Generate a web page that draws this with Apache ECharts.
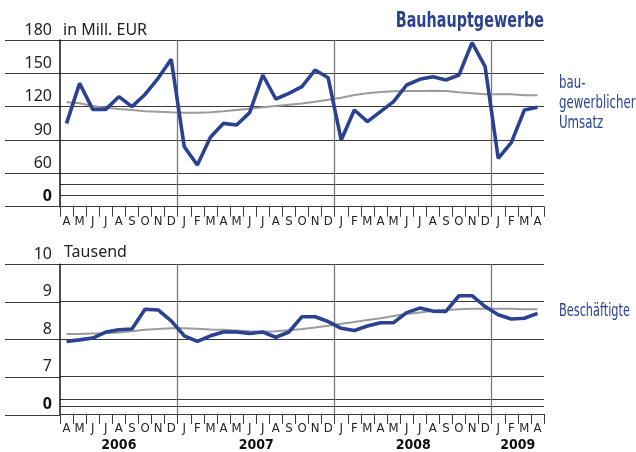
<!DOCTYPE html>
<html><head><meta charset="utf-8">
<script src="https://cdn.jsdelivr.net/npm/echarts@6/dist/echarts.min.js"></script>
<style>html,body{margin:0;padding:0;background:#fff}#c{width:636px;height:452px}</style>
</head><body><div id="c"></div>
<script>
// ---- data ----
const categories = ['2006-04','2006-05','2006-06','2006-07','2006-08','2006-09','2006-10','2006-11','2006-12',
  '2007-01','2007-02','2007-03','2007-04','2007-05','2007-06','2007-07','2007-08','2007-09','2007-10','2007-11','2007-12',
  '2008-01','2008-02','2008-03','2008-04','2008-05','2008-06','2008-07','2008-08','2008-09','2008-10','2008-11','2008-12',
  '2009-01','2009-02','2009-03','2009-04'];
const monthLabels = ['A','M','J','J','A','S','O','N','D',
  'J','F','M','A','M','J','J','A','S','O','N','D',
  'J','F','M','A','M','J','J','A','S','O','N','D',
  'J','F','M','A'];
const years = ['2006','2007','2008','2009'];
const monthsPerYear = [9,12,12,4];
const umsatz = [105,141,117.6,117.6,129,120,131,145.5,162.6,
  84,67.5,92.4,105,103.5,114.6,148.5,126.9,132,138,153,146,
  90,117,106.5,115.5,124.5,139.5,144.6,147,144,148.5,177.6,156,
  73.5,87.6,117,119.4];
const umsatzTrend = [123.9,123,120.6,119.1,117.9,117,115.8,115.5,114.9,
  114.6,114.6,114.9,115.8,117,118.2,119.4,120.6,121.8,122.8,124.5,126.3,
  128.1,130.5,132,133.2,133.8,134.1,134.1,134.4,134.1,132.9,132,131.1,
  131.1,131.1,130.2,130.2];
const beschaeftigte = [7.94,7.98,8.03,8.19,8.25,8.27,8.80,8.78,8.49,
  8.09,7.94,8.09,8.19,8.19,8.15,8.19,8.05,8.19,8.60,8.60,8.47,
  8.29,8.23,8.35,8.44,8.44,8.71,8.83,8.75,8.74,9.16,9.16,8.87,
  8.65,8.54,8.56,8.69];
const beschTrend = [8.14,8.14,8.15,8.16,8.18,8.21,8.25,8.27,8.29,
  8.29,8.28,8.26,8.25,8.23,8.21,8.20,8.21,8.24,8.27,8.31,8.36,
  8.41,8.46,8.51,8.56,8.62,8.67,8.71,8.75,8.78,8.80,8.81,8.81,
  8.81,8.81,8.80,8.80];
const umsatzTicks = [60,90,120,150,180];
const beschTicks = [7,8,9,10];
const zeroLabel = '0';
const titleText = 'Bauhauptgewerbe';
const umsatzName = 'bau-\ngewerblicher\nUmsatz';
const beschName = 'Beschäftigte';

// ---- styling ----
const FONT = "'Noto Sans', sans-serif";
const NARROW = "'Liberation Sans Narrow','DejaVu Sans Condensed','Roboto Condensed','Noto Sans',sans-serif";
const BLUE = '#2a4290', GRAY = '#9b9b9b', LINE = '#3a3a3a', YEAR = '#7a7a7a';

function near(a, b) { return Math.abs(a - b) < 1e-6; }
function splitColors(min, max, step, visible) {
  const arr = [];
  const n = Math.round((max - min) / step);
  for (let i = 0; i <= n; i++) {
    const v = min + i * step;
    arr.push(visible.some(t => near(t, v)) ? LINE : 'rgba(0,0,0,0)');
  }
  return arr;
}
const yearCenters = [];
{ let s = 0; monthsPerYear.forEach(m => { yearCenters.push(s + m / 2); s += m; }); }

function mainX(gridIndex) {
  return {
    type: 'category', gridIndex, data: categories, boundaryGap: true, position: 'bottom',
    axisLine: { show: true, lineStyle: { color: LINE, width: 1 } },
    axisTick: { show: true, interval: 0, length: 10, lineStyle: { color: LINE, width: 1 } },
    axisLabel: { interval: 0, margin: 8, fontFamily: NARROW, fontSize: 13, lineHeight: 13, color: '#222',
      formatter: (v, i) => monthLabels[i] },
    splitLine: { show: true, showMaxLine: false, interval: (i, v) => typeof v === 'string' && v.slice(5) === '01',
      lineStyle: { color: YEAR, width: 1.3 } }
  };
}
function hiddenX(gridIndex) { return { type: 'value', gridIndex, min: 0, max: 1, show: false }; }
function labelFmt(ticks, zeroAt) {
  return v => {
    if (near(v, zeroAt)) return '{z|' + zeroLabel + '}';
    const t = ticks.find(t => near(t, v));
    return t != null ? String(t) : '';
  };
}
const yLabel = (ticks, zeroAt) => ({
  show: true, margin: 8, fontFamily: FONT, fontSize: 16, lineHeight: 16, color: '#222',
  verticalAlign: 'bottom', padding: [0, 0, 2, 0], formatter: labelFmt(ticks, zeroAt),
  rich: { z: { fontFamily: FONT, fontSize: 16, lineHeight: 16, fontWeight: 'bold', color: '#111' } }
});

const option = {
  animation: false,
  backgroundColor: '#fff',
  graphic: [
    { type: 'text', x: 544, y: 21.5, scaleX: 0.76, silent: true,
      style: { text: titleText, align: 'right', verticalAlign: 'middle',
        font: 'bold 21px ' + NARROW, fill: BLUE } },
    { type: 'text', x: 559, y: 74, scaleX: 0.77, silent: true,
      style: { text: umsatzName, align: 'left', verticalAlign: 'top', lineHeight: 20,
        font: '17px ' + NARROW, fill: BLUE } },
    { type: 'text', x: 559, y: 302, scaleX: 0.74, silent: true,
      style: { text: beschName, align: 'left', verticalAlign: 'top', lineHeight: 20,
        font: '17px ' + NARROW, fill: BLUE } }
  ],
  grid: [
    { left: 60, right: 92, top: 40, height: 166.7 },
    { left: 5, width: 55, top: 40, height: 166.7 },
    { left: 60, right: 92, top: 264.3, height: 150.7 },
    { left: 5, width: 55, top: 264.3, height: 150.7 }
  ],
  xAxis: [
    mainX(0), hiddenX(1), mainX(2), hiddenX(3),
    { type: 'value', gridIndex: 2, position: 'bottom', min: 0, max: categories.length, interval: 0.5,
      axisLine: { show: false }, axisTick: { show: false }, splitLine: { show: false },
      axisLabel: { margin: 24, fontFamily: NARROW, fontWeight: 'bold', fontSize: 14, lineHeight: 14, color: '#111',
        formatter: v => { const k = yearCenters.findIndex(c => near(c, v)); return k >= 0 ? years[k] : ''; } } }
  ],
  yAxis: [
    { type: 'value', gridIndex: 0, min: 30, max: 180, interval: 10,
      name: 'in Mill. EUR', nameLocation: 'end', nameGap: 10,
      nameTextStyle: { fontFamily: FONT, fontSize: 16, color: '#222', align: 'left', verticalAlign: 'middle', padding: [0, 0, 0, 3] },
      axisLine: { show: true, lineStyle: { color: '#111', width: 1.5 } }, axisTick: { show: false },
      axisLabel: yLabel(umsatzTicks, 30),
      splitLine: { show: true, lineStyle: { color: splitColors(30, 180, 10, [30, 40, 50].concat(umsatzTicks)), width: 1 } } },
    { type: 'value', gridIndex: 1, min: 30, max: 180, interval: 30,
      axisLine: { show: false }, axisTick: { show: false }, axisLabel: { show: false },
      splitLine: { show: true, lineStyle: { color: LINE, width: 1 } } },
    { type: 'value', gridIndex: 2, min: 6, max: 10, interval: 0.1,
      name: 'Tausend', nameLocation: 'end', nameGap: 11.5,
      nameTextStyle: { fontFamily: FONT, fontSize: 16, color: '#222', align: 'left', verticalAlign: 'middle', padding: [0, 0, 0, 4] },
      axisLine: { show: true, lineStyle: { color: '#111', width: 1.5 } }, axisTick: { show: false },
      axisLabel: yLabel(beschTicks, 6),
      splitLine: { show: true, lineStyle: { color: splitColors(6, 10, 0.1, [6, 6.2, 6.4].concat(beschTicks)), width: 1 } } },
    { type: 'value', gridIndex: 3, min: 6, max: 10, interval: 1,
      axisLine: { show: false }, axisTick: { show: false }, axisLabel: { show: false },
      splitLine: { show: true, lineStyle: { color: LINE, width: 1 } } }
  ],
  series: [
    { type: 'line', xAxisIndex: 0, yAxisIndex: 0, data: umsatzTrend, symbol: 'none', silent: true, z: 2,
      lineStyle: { color: GRAY, width: 2 } },
    { type: 'line', xAxisIndex: 0, yAxisIndex: 0, data: umsatz, symbol: 'none', silent: true, z: 3,
      lineStyle: { color: BLUE, width: 3.6 } },
    { type: 'line', xAxisIndex: 2, yAxisIndex: 2, data: beschTrend, symbol: 'none', silent: true, z: 2,
      lineStyle: { color: GRAY, width: 2 } },
    { type: 'line', xAxisIndex: 2, yAxisIndex: 2, data: beschaeftigte, symbol: 'none', silent: true, z: 3,
      lineStyle: { color: BLUE, width: 3.6 } }
  ]
};
const chart = echarts.init(document.getElementById('c'), null, { renderer: 'canvas' });
chart.setOption(option);
</script>
</body></html>
